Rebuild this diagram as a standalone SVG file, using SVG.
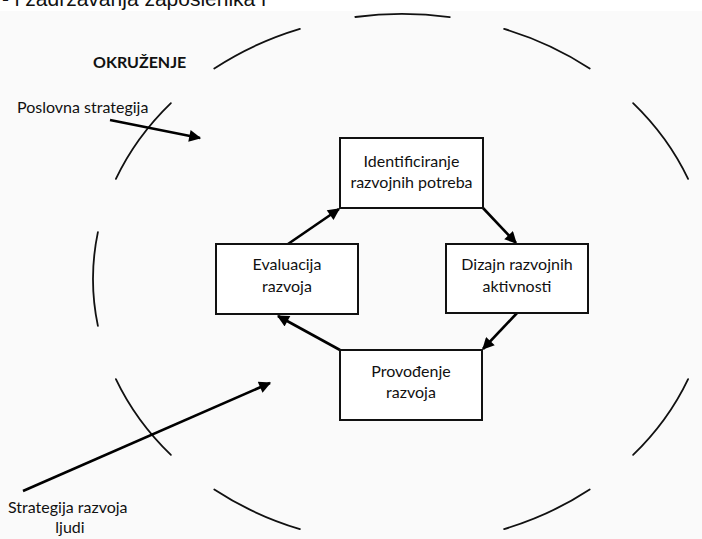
<svg xmlns="http://www.w3.org/2000/svg" width="702" height="539" viewBox="0 0 702 539">
<defs>
<style>
.lbl{font-family:Lato,"Open Sans",sans-serif;font-size:16px;fill:#111;text-anchor:middle}
.side{font-family:Lato,"Open Sans",sans-serif;font-size:16px;fill:#111}
.box{fill:#ffffff;stroke:#111;stroke-width:2}
.env{fill:none;stroke:#111;stroke-width:1.8;stroke-linecap:round}
.arr{fill:none;stroke:#000;stroke-width:2.6;marker-end:url(#ah)}
</style>
<marker id="ah" viewBox="0 0 10 10" refX="9" refY="5" markerWidth="5.2" markerHeight="4.6" orient="auto" markerUnits="strokeWidth">
<path d="M0,0 L10,5 L0,10 z" fill="#000"/>
</marker>
</defs>
<rect x="0" y="0" width="702" height="539" fill="#ffffff"/>
<rect x="0" y="11" width="702" height="528" fill="#fafafa"/>
<text x="2" y="6" font-family="Liberation Sans, Arial, sans-serif" font-size="21" fill="#111">- i zadržavanja zaposlenika i</text>

<g id="environment">
<path class="env" d="M355.3,17 A309,265 0 0 1 449.8,17.2"/>
<path class="env" d="M504.1,28.9 A309,265 0 0 1 589.7,68.5"/>
<path class="env" d="M633.1,103.1 A309,265 0 0 1 688.1,178.9"/>
<path class="env" d="M688.1,379.1 A309,265 0 0 1 633.1,454.9"/>
<path class="env" d="M589.7,489.5 A309,265 0 0 1 504.1,529.1"/>
<path class="env" d="M299.9,529.1 A309,265 0 0 1 214.3,489.5"/>
<path class="env" d="M170.9,454.9 A309,265 0 0 1 115.9,379.1"/>
<path class="env" d="M97.9,325.9 A309,265 0 0 1 97.9,232.1"/>
<path class="env" d="M115.9,178.9 A309,265 0 0 1 170.9,103.1"/>
<path class="env" d="M214.3,68.5 A309,265 0 0 1 299.9,28.9"/>
</g>

<g id="labels">
<text class="side" x="93" y="68" font-weight="bold" font-size="13.5">OKRUŽENJE</text>
<text class="side" x="17" y="113">Poslovna strategija</text>
<text class="side" x="8" y="513">Strategija razvoja</text>
<text class="side" x="70" y="533" text-anchor="middle">ljudi</text>
</g>

<g id="connectors">
<line class="arr" x1="288" y1="244" x2="339" y2="209"/>
<line class="arr" x1="483" y1="208" x2="516" y2="243"/>
<line class="arr" x1="517" y1="313" x2="483" y2="349"/>
<line class="arr" x1="340" y1="350" x2="278" y2="316"/>
<line class="arr" x1="110" y1="120" x2="200" y2="138"/>
<line class="arr" x1="23" y1="491" x2="270" y2="383"/>
</g>

<g id="node-identificiranje">
<rect class="box" x="340" y="138" width="143" height="70"/>
<text class="lbl" x="411.5" y="167">Identificiranje</text>
<text class="lbl" x="411.5" y="188">razvojnih potreba</text>
</g>
<g id="node-evaluacija">
<rect class="box" x="216" y="244" width="142" height="70"/>
<text class="lbl" x="287" y="270">Evaluacija</text>
<text class="lbl" x="287" y="292">razvoja</text>
</g>
<g id="node-dizajn">
<rect class="box" x="446" y="244" width="142" height="69"/>
<text class="lbl" x="517" y="270">Dizajn razvojnih</text>
<text class="lbl" x="517" y="292">aktivnosti</text>
</g>
<g id="node-provodenje">
<rect class="box" x="340" y="350" width="142" height="70"/>
<text class="lbl" x="411" y="377">Provođenje</text>
<text class="lbl" x="411" y="398">razvoja</text>
</g>
</svg>
